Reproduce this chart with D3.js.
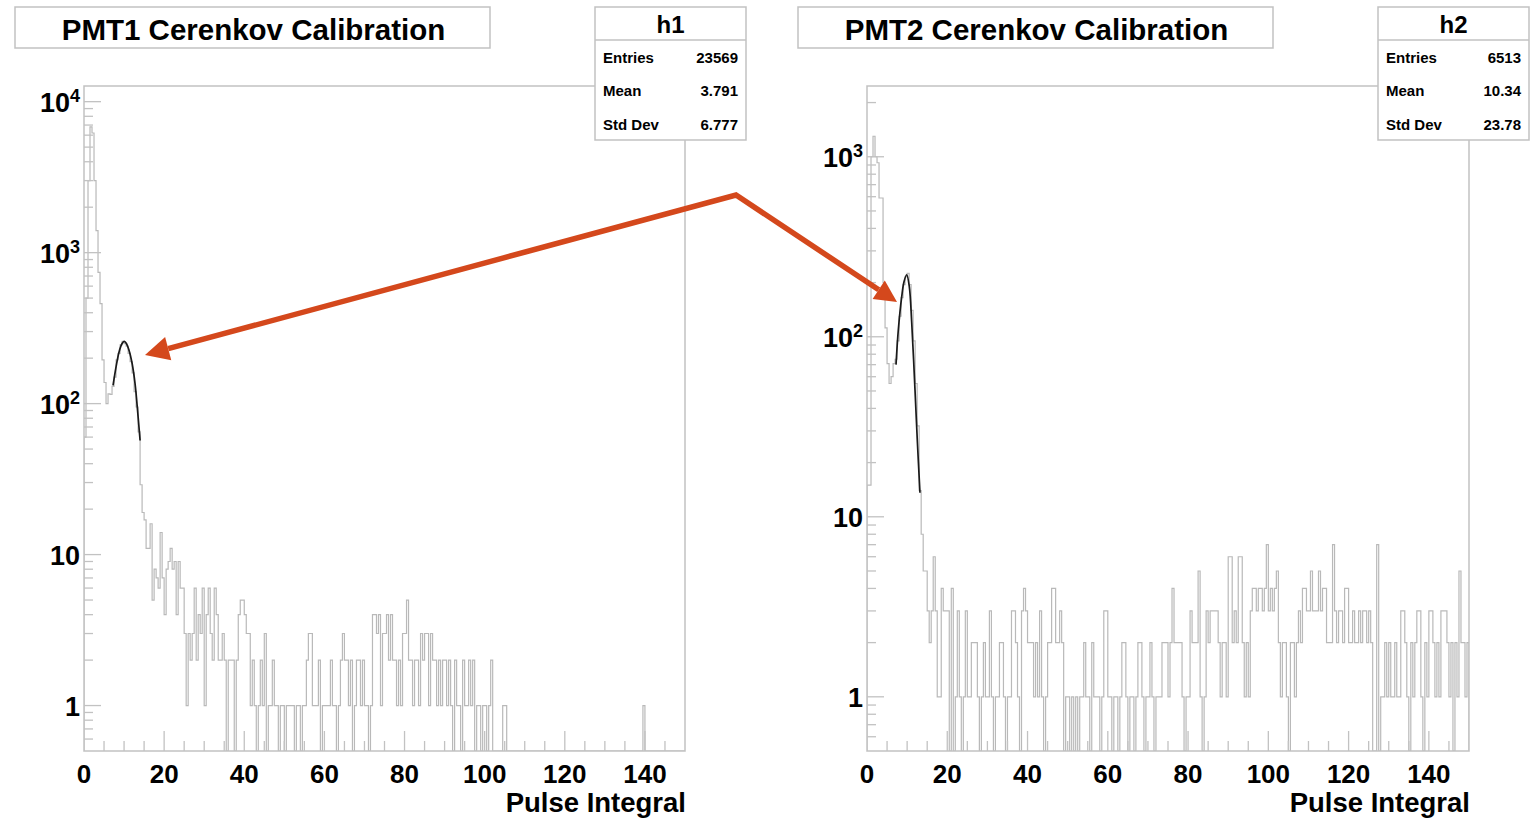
<!DOCTYPE html>
<html><head><meta charset="utf-8">
<script src="https://cdn.jsdelivr.net/npm/d3@7"></script>
<style>
body{margin:0;background:#fff;}
svg{display:block;font-family:"Liberation Sans",Arial,Helvetica,sans-serif;}
</style></head><body>
<svg id="c" width="1539" height="819"></svg>
<script>
// ---------------- data ----------------
const nBins = 300, xLow = 0, xHigh = 150;
const xTickValues = [0, 20, 40, 60, 80, 100, 120, 140];
const xAxisTitle = "Pulse Integral";
const leftTitle = "PMT1 Cerenkov Calibration";
const rightTitle = "PMT2 Cerenkov Calibration";
const statLabels = ["Entries", "Mean", "Std Dev"];
const leftStatName = "h1";
const rightStatName = "h2";
const leftStatValues = ["23569", "3.791", "6.777"];
const rightStatValues = ["6513", "10.34", "23.78"];
const leftDecades = [1, 10, 100, 1000, 10000];
const rightDecades = [1, 10, 100, 1000];

const leftCounts = [
  60,500,3000,6800,6200,3000,1400,740,460,195,
  138,100,116,115,130,150,195,215,245,258,
  250,240,215,190,160,120,95,65,29,19,
  17,11,11,16,5,8,7,6,14,7,
  4,8,9,11,8,9,4,9,6,6,
  3,1,3,2,3,6,2,4,3,6,
  1,4,6,3,2,6,4,2,2,3,
  2,0,2,2,2,0,2,4,5,5,
  4,3,3,1,2,1,0,1,2,1,
  3,0,1,1,2,1,1,0,1,1,
  0,1,1,1,1,0,1,1,0,1,
  1,2,3,3,1,1,1,2,0,1,
  1,1,1,2,1,1,0,1,2,3,
  2,2,1,2,0,1,2,2,1,2,
  1,1,0,1,4,4,3,4,1,3,
  3,4,2,4,2,2,1,2,1,3,
  3,5,2,2,1,2,2,1,3,2,
  3,3,1,3,2,2,1,2,1,2,
  2,1,2,1,0,2,1,1,0,2,
  1,1,2,1,2,0,1,1,0,1,
  1,0,1,2,0,0,0,0,0,1,
  1,0,0,0,0,0,0,0,0,0,
  0,0,0,0,0,0,0,0,0,0,
  0,0,0,0,0,0,0,0,0,0,
  0,0,0,0,0,0,0,0,0,0,
  0,0,0,0,0,0,0,0,0,0,
  0,0,0,0,0,0,0,0,0,0,
  0,0,0,0,0,0,0,0,0,1,
  0,0,0,0,0,0,0,0,0,0,
  0,0,0,0,0,0,0,0,0,0
];
const rightCounts = [
  15,15,1000,1300,1000,926,590,590,200,112,
  71,55,60,71,75,95,130,165,195,215,
  225,195,140,95,55,32,14,8,5,5,
  3,2,3,6,3,1,1,4,3,3,
  3,0,4,0,1,3,1,0,1,3,
  1,1,2,2,2,1,0,1,2,1,
  1,3,1,0,1,1,2,2,1,0,
  1,1,3,3,2,1,0,3,4,3,
  2,2,2,1,2,1,3,1,0,1,
  2,2,4,4,2,2,3,2,0,1,
  1,0,1,0,1,0,1,1,2,1,
  1,0,2,1,1,1,0,1,3,3,
  1,1,0,1,1,0,1,2,2,1,
  0,1,1,0,1,2,2,1,0,1,
  1,2,1,0,1,1,1,2,2,2,
  1,2,4,2,2,2,2,1,0,1,
  1,3,2,2,2,5,1,0,1,3,
  2,3,3,3,3,2,1,2,2,1,
  6,6,2,3,2,6,6,2,1,2,
  1,3,4,4,3,4,4,3,4,7,
  3,4,3,4,5,2,1,2,2,1,
  0,2,2,1,2,3,2,4,4,3,
  3,5,3,3,3,5,3,4,4,2,
  2,2,7,3,2,3,3,2,4,4,
  2,2,3,2,2,3,2,3,3,2,
  3,2,0,0,7,0,1,1,2,1,
  2,1,1,2,1,1,3,3,2,1,
  0,2,1,2,3,3,1,0,2,1,
  3,3,2,1,2,1,3,3,3,2,
  1,2,0,2,1,5,2,2,1,2
];
// fitted gaussian curve
const leftFitX = [7.25, 8, 8.75, 9.5, 10, 10.5, 11.25, 12, 12.75, 13.5, 14];
const leftFitY = [132, 175, 220, 250, 258, 252, 225, 185, 135, 82, 57];
const rightFitX = [7.23, 7.8, 8.65, 9.22, 9.89, 10.54, 11.14, 11.96, 12.53, 13.2];
const rightFitY = [70, 109, 167, 202, 221, 190, 120, 50.7, 26.7, 13.6];

// ---------------- drawing ----------------
const svg = d3.select("#c");
const FRAME = "#c2c2c2", HIST = "#b9b9b9", TXT = "#000";

function drawPad(p) {
  const g = svg.append("g");
  const x = d3.scaleLinear().domain([xLow, xHigh]).range([p.x0, p.x1]);
  const y = d3.scaleLog().domain([0.5, p.ymax]).range([p.y1, p.y0]);
  const yb = p.y1;
  const clipId = "clip" + p.id;
  svg.append("clipPath").attr("id", clipId).append("rect")
    .attr("x", p.x0).attr("y", p.y0).attr("width", p.x1 - p.x0).attr("height", p.y1 - p.y0);

  // histogram outline
  const bw = (xHigh - xLow) / nBins;
  const pts = [[x(xLow), yb]];
  p.counts.forEach((v, i) => {
    const yy = v > 0 ? y(v) : yb;
    pts.push([x(xLow + i * bw), yy]);
    pts.push([x(xLow + (i + 1) * bw), yy]);
  });
  pts.push([x(xHigh), yb]);
  g.append("path").attr("clip-path", `url(#${clipId})`)
    .attr("d", d3.line()(pts)).attr("fill", "none")
    .attr("stroke", HIST).attr("stroke-width", 1.2);

  // fit curve
  const fit = p.fitX.map((u, i) => [x(u), y(p.fitY[i])]);
  g.append("path").attr("d", d3.line().curve(d3.curveCatmullRom)(fit))
    .attr("fill", "none").attr("stroke", "#1a1a1a").attr("stroke-width", 1.7);

  // frame
  g.append("rect").attr("x", p.x0).attr("y", p.y0)
    .attr("width", p.x1 - p.x0).attr("height", p.y1 - p.y0)
    .attr("fill", "none").attr("stroke", FRAME).attr("stroke-width", 1.5);

  // x ticks
  for (let t = xLow; t < xHigh; t += 5) {
    if (t === xLow) continue;
    const major = t % 20 === 0;
    g.append("line").attr("x1", x(t)).attr("x2", x(t))
      .attr("y1", yb).attr("y2", yb - (major ? 20 : 10))
      .attr("stroke", FRAME).attr("stroke-width", 1.3);
  }
  xTickValues.forEach(t => {
    g.append("text").attr("x", x(t)).attr("y", 783).attr("text-anchor", "middle")
      .attr("font-size", 26).attr("font-weight", "bold").attr("fill", TXT).text(t);
  });
  g.append("text").attr("x", p.x1 + 1).attr("y", 812).attr("text-anchor", "end")
    .attr("font-size", 27.5).attr("font-weight", "bold").attr("fill", TXT).text(xAxisTitle);

  // y ticks
  const lo = 0.5, hi = p.ymax;
  for (let d = 0.1; d <= hi; d *= 10) {
    for (let m = 1; m <= 9; m++) {
      const v = m * d;
      if (v <= lo * 1.001 || v > hi) continue;
      const major = m === 1;
      g.append("line").attr("x1", p.x0).attr("x2", p.x0 + (major ? 17 : 9))
        .attr("y1", y(v)).attr("y2", y(v))
        .attr("stroke", FRAME).attr("stroke-width", 1.3);
    }
  }
  p.decades.forEach(v => {
    const e = Math.round(Math.log10(v));
    const t = g.append("text").attr("x", p.x0 - 4).attr("y", y(v) + 10)
      .attr("text-anchor", "end").attr("font-size", 27).attr("font-weight", "bold").attr("fill", TXT);
    if (e === 0) t.text("1");
    else if (e === 1) t.text("10");
    else {
      t.append("tspan").text("10");
      t.append("tspan").attr("font-size", 18).attr("dy", -10).text(e);
    }
  });

  // title box
  const tb = svg.append("g");
  tb.append("rect").attr("x", p.tx0).attr("y", 7).attr("width", 475).attr("height", 41)
    .attr("fill", "#fff").attr("stroke", FRAME).attr("stroke-width", 1.5);
  tb.append("text").attr("x", p.tx0 + 238.5).attr("y", 39.5).attr("text-anchor", "middle")
    .attr("font-size", 29.5).attr("font-weight", "bold").attr("fill", TXT).text(p.title);

  // stats box
  const sb = svg.append("g");
  sb.append("rect").attr("x", p.sx0).attr("y", 7).attr("width", 151).attr("height", 133)
    .attr("fill", "#fff").attr("stroke", FRAME).attr("stroke-width", 1.5);
  sb.append("line").attr("x1", p.sx0).attr("x2", p.sx0 + 151).attr("y1", 40).attr("y2", 40)
    .attr("stroke", FRAME).attr("stroke-width", 1.5);
  sb.append("text").attr("x", p.sx0 + 75.5).attr("y", 33).attr("text-anchor", "middle")
    .attr("font-size", 24).attr("font-weight", "bold").attr("fill", TXT).text(p.statName);
  statLabels.forEach((s, i) => {
    const by = 62.5 + i * 33.5;
    sb.append("text").attr("x", p.sx0 + 8).attr("y", by).attr("font-size", 15)
      .attr("font-weight", "bold").attr("fill", TXT).text(s);
    sb.append("text").attr("x", p.sx0 + 143).attr("y", by).attr("text-anchor", "end")
      .attr("font-size", 15).attr("font-weight", "bold").attr("fill", TXT).text(p.statValues[i]);
  });
}

drawPad({id: 1, x0: 84, x1: 685, y0: 86, y1: 751, ymax: 12700, counts: leftCounts,
  fitX: leftFitX, fitY: leftFitY, decades: leftDecades, title: leftTitle, tx0: 15,
  sx0: 595, statName: leftStatName, statValues: leftStatValues});
drawPad({id: 2, x0: 867, x1: 1469, y0: 86, y1: 751, ymax: 2472, counts: rightCounts,
  fitX: rightFitX, fitY: rightFitY, decades: rightDecades, title: rightTitle, tx0: 798,
  sx0: 1378, statName: rightStatName, statValues: rightStatValues});

// annotation arrows
const AR = "#d4481c";
const ag = svg.append("g");
ag.append("path").attr("d", "M168.2,348.7 L736,195 L878.7,289.8")
  .attr("fill", "none").attr("stroke", AR).attr("stroke-width", 5.5)
  .attr("stroke-linejoin", "miter");
ag.append("polygon").attr("points", "145,355 171.3,360.3 165.1,337.1").attr("fill", AR);
ag.append("polygon").attr("points", "897,302 872.6,299 884.8,280.6").attr("fill", AR);
</script>
</body></html>
